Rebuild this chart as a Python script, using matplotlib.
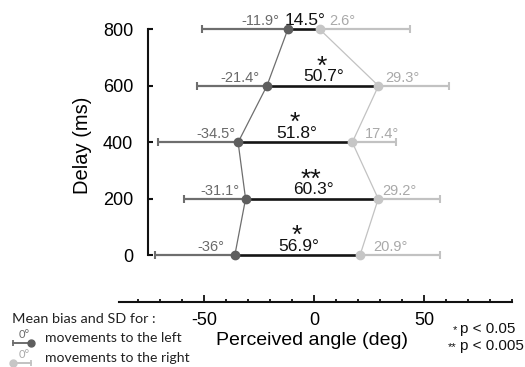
import numpy as np
import matplotlib.pyplot as plt
from matplotlib.lines import Line2D

plt.rcParams['font.family'] = ['Liberation Sans', 'DejaVu Sans']
plt.rcParams['axes.unicode_minus'] = False

# data
delays = np.array([0, 200, 400, 600, 800])
left_mean = np.array([-36.0, -31.1, -34.5, -21.4, -11.9])
left_sd = np.array([36.2, 27.9, 36.5, 31.8, 39.0])
right_mean = np.array([20.9, 29.2, 17.4, 29.3, 2.6])
right_sd = np.array([36.5, 28.0, 19.7, 32.1, 41.0])
diff_labels = [56.9, 60.3, 51.8, 50.7, 14.5]
signif = ['*', '**', '*', '*', '']

# label nudges (pixels) so they clear the connecting lines
left_off = [-10.5, -6.4, -2.7, -7.0, -8.7]
right_off = [13.0, 4.3, 12.7, 6.7, 10.0]

dark_dot, dark_line, dark_txt = '#5e5e5e', '#6e6e6e', '#6a6a6a'
light_dot, light_line, light_txt = '#c6c6c6', '#c2c2c2', '#a9a9a9'

W, H = 525, 367
fig = plt.figure(figsize=(W / 100, H / 100), dpi=100)
ax = fig.add_axes([116 / W, 1 - 306.2 / H, 396 / W, 291 / H])
ax.set_xlim(-90, 90)
ax.set_ylim(-180, 850)

px = 0.72  # points per pixel

# connecting lines
ax.plot(left_mean, delays, color=dark_line, lw=0.9, zorder=2)
ax.plot(right_mean, delays, color=light_line, lw=0.9, zorder=2)

# SD bars (outer side only) with caps
ax.hlines(delays, left_mean - left_sd, left_mean, color=dark_line, lw=1.6, zorder=3)
ax.hlines(delays, right_mean, right_mean + right_sd, color=light_line, lw=1.6, zorder=3)
ax.plot(left_mean - left_sd, delays, '|', color=dark_line, ms=6, mew=1.5, zorder=3)
ax.plot(right_mean + right_sd, delays, '|', color=light_line, ms=6, mew=1.5, zorder=3)

# difference segment
ax.hlines(delays, left_mean, right_mean, color='#151515', lw=1.9, zorder=4)

ax.plot(left_mean, delays, 'o', color=dark_dot, ms=6, zorder=5)
ax.plot(right_mean, delays, 'o', color=light_dot, ms=6, zorder=5)

for i, d in enumerate(delays):
    ax.annotate(f'{left_mean[i]:g}°', (left_mean[i], d), xytext=(left_off[i] * px, 4 * px),
                textcoords='offset points', ha='right', va='baseline',
                fontsize=10.5, color=dark_txt)
    ax.annotate(f'{right_mean[i]:g}°', (right_mean[i], d), xytext=(right_off[i] * px, 4 * px),
                textcoords='offset points', ha='left', va='baseline',
                fontsize=10.5, color=light_txt)
    mid = (left_mean[i] + right_mean[i]) / 2 + 0.6
    ax.annotate(f'{diff_labels[i]}°', (mid, d), xytext=(0, 4.5 * px),
                textcoords='offset points', ha='center', va='baseline',
                fontsize=12.5, color='#111111')
    if signif[i]:
        ax.annotate(signif[i], (mid - 1, d), xytext=(0, 12 * px),
                    textcoords='offset points', ha='center', va='baseline',
                    fontsize=19, color='#111111')

for s in ['top', 'right']:
    ax.spines[s].set_visible(False)
ax.spines['left'].set_position(('data', -75.3))
ax.spines['left'].set_bounds(0, 800)
ax.spines['bottom'].set_position(('data', -165))
ax.spines['bottom'].set_bounds(-88.5, 90)
for s in ['left', 'bottom']:
    ax.spines[s].set_linewidth(1.5)
    ax.spines[s].set_color('#111111')

ax.set_yticks(delays)
ax.set_xticks([-50, 0, 50])
ax.set_xticks(np.arange(-80, 91, 10), minor=True)
ax.tick_params(axis='y', direction='in', length=3.6, width=1.5, pad=11, labelsize=13,
               color='#111111')
ax.tick_params(axis='x', which='major', direction='in', length=5, width=1.3, pad=7,
               labelsize=13, color='#111111')
ax.tick_params(axis='x', which='minor', direction='in', length=2.5, width=1.3,
               color='#111111')

ax.set_ylabel('Delay (ms)', fontsize=14.5)
ax.yaxis.label.set_va('center')
ax.yaxis.set_label_coords((83 - 116) / 396, (306.2 - 145) / 291)
ax.set_xlabel('Perceived angle (deg)', fontsize=14)
ax.xaxis.label.set_va('center')
ax.xaxis.set_label_coords((312 - 116) / 396, (306.2 - 340.7) / 291)


def fx(x):
    return x / W


def fy(y):
    return 1 - y / H


# legend at bottom left
leg_font = ['Lato', 'DejaVu Sans']
fig.text(fx(12), fy(323.3), 'Mean bias and SD for :', fontsize=10.4, family=leg_font,
         va='baseline', color='#222222')
fig.text(fx(45), fy(341.7), 'movements to the left', fontsize=10.1, family=leg_font,
         va='baseline', color='#222222')
fig.text(fx(45), fy(361.7), 'movements to the right', fontsize=10.1, family=leg_font,
         va='baseline', color='#222222')

for yy, col, txtcol, cap_x, dot_x, ty in [(342.5, dark_line, dark_txt, 13, 31, 338),
                                         (362.5, light_line, light_txt, 31, 13, 357.7)]:
    fig.add_artist(Line2D([fx(13), fx(31)], [fy(yy), fy(yy)], color=col, lw=1.4,
                          transform=fig.transFigure))
    fig.add_artist(Line2D([fx(cap_x)], [fy(yy)], marker='|', ms=5, mew=1.3, color=col,
                          transform=fig.transFigure))
    fig.add_artist(Line2D([fx(dot_x)], [fy(yy)], marker='o', ms=5,
                          color=dark_dot if col == dark_line else light_dot,
                          transform=fig.transFigure))
    fig.text(fx(24.5), fy(ty), '0°', fontsize=8, family=leg_font, ha='center',
             va='baseline', color=txtcol)

# significance key
fig.text(fx(460), fy(333.3), 'p < 0.05', fontsize=11, va='baseline', color='#111111')
fig.text(fx(460), fy(350), 'p < 0.005', fontsize=11, va='baseline', color='#111111')
fig.text(fx(457), fy(333.3), '*', fontsize=8, ha='right', va='baseline', color='#111111')
fig.text(fx(457), fy(350), '**', fontsize=8, ha='right', va='baseline', color='#111111')

fig.savefig('out.png', dpi=100)
